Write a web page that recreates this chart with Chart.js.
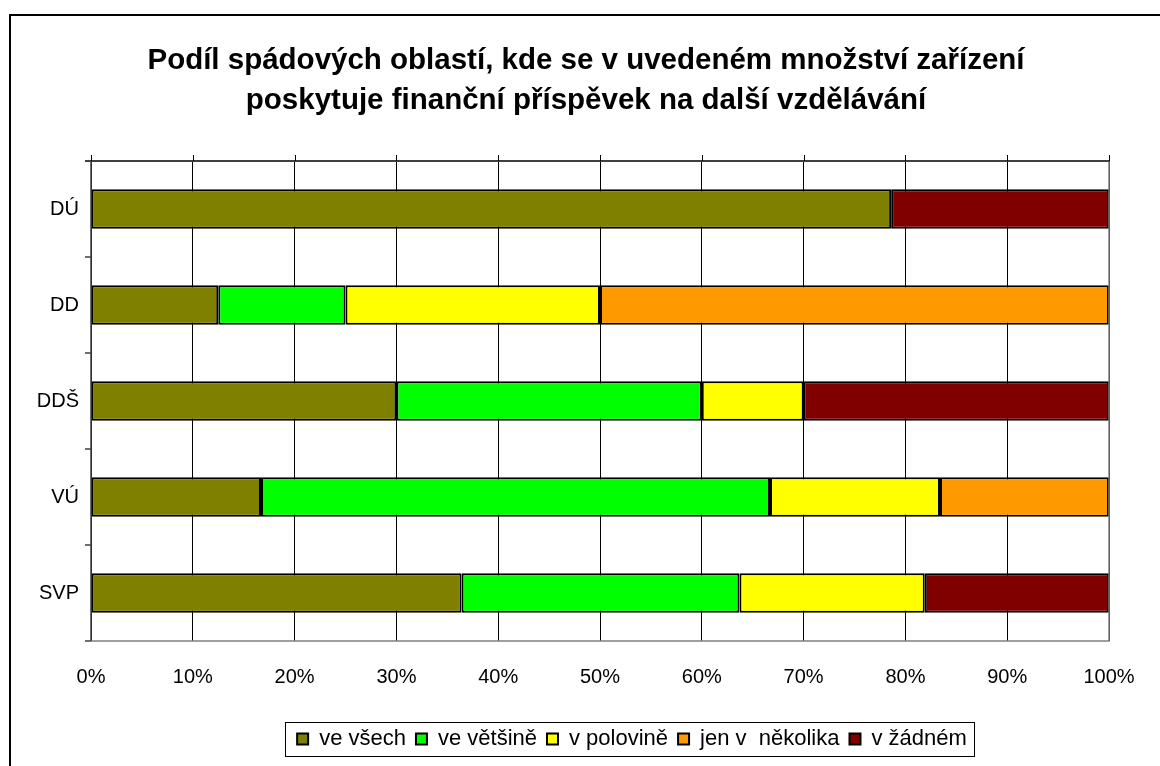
<!DOCTYPE html>
<html>
<head>
<meta charset="utf-8">
<script src="https://cdn.jsdelivr.net/npm/chart.js@4/dist/chart.umd.min.js"></script>
<style>
  html, body { margin: 0; padding: 0; background: #fff; }
  #wrap { width: 1160px; height: 766px; }
</style>
</head>
<body>
<div id="wrap"><canvas id="chart" width="1160" height="766"></canvas></div>
<script>
// categories (top to bottom)
const categories = ['DÚ', 'DD', 'DDŠ', 'VÚ', 'SVP'];

// share of areas in % per answer
const veVsech    = [78.6, 12.5, 30, 16.7, 36.4];
const veVetsine  = [0, 12.5, 30, 50, 27.3];
const vPolovine  = [0, 25, 10, 16.7, 18.2];
const jenNekolik = [0, 50, 0, 16.6, 0];
const vZadnem    = [21.4, 0, 30, 0, 18.1];

const seriesNames = ['ve všech', 've většině', 'v polovině', 'jen v  několika', 'v žádném'];
const seriesColors = ['#808000', '#00ff00', '#ffff00', '#ff9900', '#800000'];
const tickLabels = ['0%', '10%', '20%', '30%', '40%', '50%', '60%', '70%', '80%', '90%', '100%'];

const titleLines = ['Podíl spádových oblastí, kde se v uvedeném množství zařízení',
                    'poskytuje finanční příspěvek na další vzdělávání'];

const FONT = '"Liberation Sans", Arial, sans-serif';

const allSeries = [veVsech, veVetsine, vPolovine, jenNekolik, vZadnem];
const datasets = allSeries.map((vals, i) => ({
    label: seriesNames[i],
    data: vals,
    backgroundColor: seriesColors[i],
    borderColor: '#000',
    borderWidth: 2,
    borderSkipped: false,
    barPercentage: 0.41,
    categoryPercentage: 1.0
}));

// frame, axis lines, tick marks, legend box
const excelLook = {
    id: 'excelLook',
    afterUpdate(chart) {
        // title and legend are not centred on the canvas in the original
        const tb = chart.titleBlock;
        if (tb) {
            const d = 586 - (tb.left + tb.right) / 2;
            tb.left += d;
            tb.right += d;
        }
        const lg = chart.legend;
        if (lg) {
            const d = 632 - (lg.left + lg.right) / 2;
            lg.left += d;
            lg.right += d;
            lg.legendHitBoxes.forEach(h => { h.left += d; });
        }
    },
    beforeDraw(chart) {
        const ctx = chart.ctx;
        ctx.save();
        ctx.fillStyle = '#fff';
        ctx.fillRect(0, 0, chart.width, chart.height);
        ctx.strokeStyle = '#000';
        ctx.lineWidth = 2;
        ctx.beginPath();
        ctx.moveTo(10, chart.height + 5);
        ctx.lineTo(10, 15);
        ctx.lineTo(chart.width + 5, 15);
        ctx.stroke();
        ctx.restore();
    },
    afterDraw(chart) {
        const ctx = chart.ctx;
        const a = chart.chartArea;
        const x = chart.scales.x;
        ctx.save();
        // plot border (right / bottom gray)
        ctx.strokeStyle = '#808080';
        ctx.lineWidth = 1.5;
        ctx.beginPath();
        ctx.moveTo(a.left, a.bottom);
        ctx.lineTo(a.right, a.bottom);
        ctx.lineTo(a.right, a.top);
        ctx.stroke();
        // value axis at top
        ctx.strokeStyle = '#404040';
        ctx.lineWidth = 2;
        ctx.beginPath();
        ctx.moveTo(a.left - 6, a.top);
        ctx.lineTo(a.right, a.top);
        ctx.stroke();
        ctx.lineWidth = 1;
        ctx.strokeStyle = '#000';
        ctx.beginPath();
        for (let v = 0; v <= 100; v += 10) {
            const px = Math.round(x.getPixelForValue(v)) + 0.5;
            ctx.moveTo(px, a.top);
            ctx.lineTo(px, a.top - 6);
        }
        ctx.stroke();
        // category axis on the left
        ctx.strokeStyle = '#404040';
        ctx.lineWidth = 1.5;
        ctx.beginPath();
        ctx.moveTo(a.left, a.top);
        ctx.lineTo(a.left, a.bottom);
        const step = (a.bottom - a.top) / categories.length;
        for (let i = 0; i <= categories.length; i++) {
            const py = a.top + i * step;
            ctx.moveTo(a.left - 6, py);
            ctx.lineTo(a.left, py);
        }
        ctx.stroke();
        // legend frame
        const lg = chart.legend;
        if (lg && lg.legendHitBoxes.length) {
            const hb = lg.legendHitBoxes;
            const last = hb[hb.length - 1];
            const l = hb[0].left - 12;
            const r = last.left + last.width + 7;
            const t = hb[0].top - 6;
            const b = hb[0].top + hb[0].height + 6;
            ctx.strokeStyle = '#000';
            ctx.lineWidth = 1;
            ctx.strokeRect(Math.round(l) + 0.5, Math.round(t) + 0.5, Math.round(r - l), Math.round(b - t));
        }
        ctx.restore();
    }
};

new Chart(document.getElementById('chart'), {
    type: 'bar',
    data: { labels: categories, datasets: datasets },
    options: {
        indexAxis: 'y',
        responsive: false,
        animation: false,
        devicePixelRatio: 1,
        layout: { padding: { top: 41, left: 0, right: 51, bottom: 6 } },
        scales: {
            x: {
                stacked: true,
                min: 0,
                max: 100,
                border: { display: false },
                grid: { color: '#000', lineWidth: 1, drawTicks: false },
                ticks: {
                    stepSize: 10,
                    padding: 24,
                    color: '#000',
                    font: { family: FONT, size: 20 },
                    callback: (v, i) => tickLabels[i]
                },
                afterFit: s => { s.height = 77; }
            },
            y: {
                stacked: true,
                border: { display: false },
                grid: { display: false, drawTicks: false },
                ticks: { padding: 12, color: '#000', font: { family: FONT, size: 20 } },
                afterFit: s => { s.width = 91; }
            }
        },
        plugins: {
            title: {
                display: true,
                text: titleLines,
                color: '#000',
                font: { family: FONT, size: 29.5, weight: 'bold', lineHeight: 1.356 },
                padding: { top: 0, bottom: 40 }
            },
            legend: {
                position: 'bottom',
                labels: {
                    color: '#000',
                    boxWidth: 11,
                    boxHeight: 11,
                    padding: 10,
                    font: { family: FONT, size: 22 }
                }
            },
            tooltip: { enabled: false }
        }
    },
    plugins: [excelLook]
});
</script>
</body>
</html>
